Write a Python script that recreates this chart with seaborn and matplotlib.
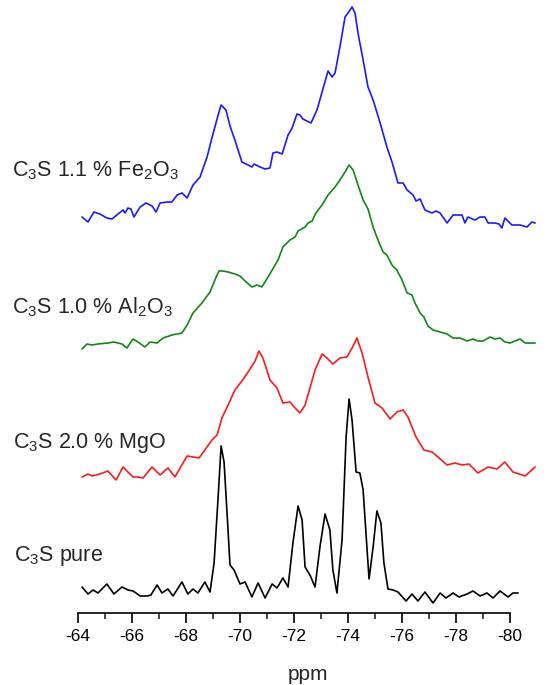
import numpy as np
import pandas as pd
import matplotlib
matplotlib.use("Agg")
import matplotlib.pyplot as plt
import seaborn as sns

# ---------------- data ----------------
labels = ["C$_3$S 1.1 % Fe$_2$O$_3$", "C$_3$S 1.0 % Al$_2$O$_3$",
          "C$_3$S 2.0 % MgO", "C$_3$S pure"]
colors = ["#1a1aff", "#118811", "#ff1a1a", "#000000"]
offsets = [383, 263, 135, 20]          # vertical stacking offsets (a.u.)

fe_ppm = [-64.15, -64.37, -64.59, -64.81, -65.07, -65.26, -65.48, -65.67, -65.74, -65.85,
          -65.96, -66.07, -66.30, -66.52, -66.74, -66.89, -67.04, -67.30, -67.48, -67.67,
          -67.85, -68.04, -68.26, -68.52, -68.78, -68.96, -69.19, -69.30, -69.48, -69.63,
          -69.81, -70.07, -70.30, -70.44, -70.52, -70.74, -70.93, -71.11, -71.22, -71.37,
          -71.56, -71.78, -71.93, -72.11, -72.22, -72.33, -72.63, -72.85, -73.04, -73.26,
          -73.41, -73.52, -73.70, -73.89, -74.00, -74.15, -74.26, -74.37, -74.56, -74.74,
          -74.93, -75.19, -75.44, -75.63, -75.85, -76.04, -76.19, -76.41, -76.52, -76.67,
          -76.85, -77.11, -77.26, -77.41, -77.67, -77.89, -78.22, -78.33, -78.44, -78.70,
          -78.89, -79.07, -79.19, -79.44, -79.59, -79.70, -79.81, -80.07, -80.37, -80.63,
          -80.81, -80.93]
fe_int = [13, 8, 18, 16, 12, 11, 16, 20, 17, 22,
          21, 13, 23, 27, 24, 18, 27, 28, 28, 35,
          37, 32, 45, 53, 73, 92, 115, 125, 120, 104,
          90, 68, 65, 63, 66, 63, 61, 62, 77, 78,
          76, 95, 102, 116, 115, 111, 107, 120, 138, 159,
          153, 157, 183, 213, 217, 223, 217, 197, 170, 143,
          130, 107, 83, 68, 47, 47, 40, 35, 29, 31,
          20, 17, 19, 17, 7, 15, 15, 7, 13, 10,
          13, 13, 7, 7, 6, 2, 12, 5, 5, 3,
          8, 7]

al_ppm = [-64.15, -64.33, -64.52, -64.74, -65.11, -65.33, -65.63, -65.81, -66.04, -66.22,
          -66.48, -66.67, -66.93, -67.15, -67.48, -67.85, -68.04, -68.26, -68.59, -68.89,
          -69.07, -69.22, -69.37, -69.56, -69.81, -70.00, -70.19, -70.44, -70.63, -70.81,
          -71.04, -71.30, -71.41, -71.59, -71.85, -72.04, -72.15, -72.41, -72.52, -72.67,
          -72.81, -73.04, -73.26, -73.52, -73.70, -73.89, -74.04, -74.19, -74.37, -74.56,
          -74.74, -74.93, -75.11, -75.30, -75.44, -75.63, -75.81, -76.00, -76.19, -76.37,
          -76.48, -76.67, -76.81, -76.96, -77.15, -77.41, -77.67, -77.89, -78.15, -78.41,
          -78.63, -78.81, -79.00, -79.26, -79.44, -79.63, -79.81, -80.00, -80.19, -80.37,
          -80.56, -80.74, -80.93]
al_int = [1, 6, 5, 6, 7, 8, 6, 2, 11, 8,
          3, 8, 7, 12, 15, 17, 25, 37, 47, 58,
          70, 79, 79, 78, 76, 74, 69, 63, 65, 63,
          73, 85, 90, 103, 110, 113, 119, 123, 127, 129,
          137, 145, 155, 163, 170, 178, 185, 180, 165, 150,
          141, 123, 110, 98, 95, 85, 80, 70, 57, 55,
          47, 37, 33, 24, 20, 18, 16, 12, 12, 9,
          11, 9, 9, 13, 11, 12, 8, 7, 9, 11,
          7, 7, 7]

mg_ppm = [-64.15, -64.37, -64.52, -64.81, -65.11, -65.41, -65.67, -65.85, -66.04, -66.22,
          -66.41, -66.74, -67.04, -67.33, -67.59, -68.04, -68.26, -68.48, -68.70, -68.96,
          -69.15, -69.33, -69.56, -69.81, -70.07, -70.30, -70.56, -70.70, -70.85, -71.11,
          -71.37, -71.59, -71.85, -72.04, -72.22, -72.41, -72.59, -72.78, -73.04, -73.22,
          -73.44, -73.70, -73.96, -74.15, -74.33, -74.52, -74.74, -75.00, -75.26, -75.56,
          -75.81, -76.04, -76.22, -76.52, -76.81, -77.11, -77.33, -77.67, -77.96, -78.22,
          -78.48, -78.81, -79.19, -79.52, -79.81, -80.11, -80.56, -80.93]
mg_int = [1, 4, 2, 4, 7, -2, 11, 6, 1, 1,
          0, 11, 3, 10, 1, 22, 21, 20, 28, 38,
          43, 60, 73, 88, 97, 106, 117, 127, 120, 98,
          90, 75, 76, 70, 65, 73, 90, 108, 124, 120,
          114, 120, 121, 130, 140, 125, 101, 75, 70, 59,
          66, 68, 61, 41, 28, 26, 21, 13, 15, 13,
          14, 5, 11, 9, 16, 6, 2, 11]

pure_ppm = [-64.15, -64.37, -64.56, -64.74, -65.07, -65.33, -65.63, -65.85, -66.04, -66.30,
            -66.56, -66.70, -66.93, -67.11, -67.33, -67.52, -67.85, -68.07, -68.26, -68.44,
            -68.70, -68.89, -69.04, -69.19, -69.30, -69.41, -69.52, -69.63, -69.78, -70.00,
            -70.19, -70.44, -70.67, -70.93, -71.19, -71.37, -71.59, -71.78, -71.96, -72.15,
            -72.30, -72.41, -72.59, -72.78, -72.96, -73.15, -73.33, -73.44, -73.59, -73.78,
            -73.93, -74.04, -74.15, -74.30, -74.44, -74.56, -74.70, -74.78, -74.93, -75.07,
            -75.22, -75.33, -75.48, -75.67, -75.85, -76.15, -76.37, -76.59, -76.85, -77.15,
            -77.41, -77.63, -77.89, -78.11, -78.41, -78.63, -78.89, -79.15, -79.37, -79.63,
            -79.93, -80.11, -80.30]
pure_int = [6, -1, 3, 0, 9, -1, 6, 3, 2, -3,
            -3, -2, 8, 0, 4, -3, 11, -1, 4, 0,
            11, 1, 30, 96, 147, 131, 80, 28, 23, 9,
            11, -4, 10, -5, 9, 5, 15, 6, 50, 87,
            73, 26, 18, 6, 46, 79, 63, 23, 0, 53,
            156, 194, 173, 121, 120, 103, 46, 14, 46, 82,
            70, 30, 4, 3, 1, -8, -1, -8, 1, -10,
            0, -5, 0, -4, -1, 2, -3, 0, -5, 2,
            -4, 0, 0]

x_ticks = [-64, -66, -68, -70, -72, -74, -76, -78, -80]
x_label = "ppm"

series_ppm = [fe_ppm, al_ppm, mg_ppm, pure_ppm]
series_int = [fe_int, al_int, mg_int, pure_int]

# ---------------- plot ----------------
sns.set_style("white")
plt.rcParams["font.family"] = ["Liberation Sans", "DejaVu Sans"]
plt.rcParams["mathtext.default"] = "regular"

W, H = 548, 685
fig = plt.figure(figsize=(W / 100, H / 100), dpi=100)
ax = fig.add_axes([70 / W, 72 / H, 475 / W, 613 / H])

for ppm, inten, off, col in zip(series_ppm, series_int, offsets, colors):
    df = pd.DataFrame({"ppm": ppm, "y": np.asarray(inten, float) + off})
    sns.lineplot(data=df, x="ppm", y="y", color=col, lw=1.2, sort=False,
                 estimator=None, ax=ax, clip_on=False)

ax.set_xlim(-63.704, -81.296)
ax.set_ylim(0, 613)
for s in ["top", "left", "right"]:
    ax.spines[s].set_visible(False)
ax.spines["bottom"].set_bounds(-80, -64)
ax.spines["bottom"].set_linewidth(1.2)
ax.spines["bottom"].set_color("black")
ax.set_yticks([])
ax.set_ylabel("")
ax.set_xticks(x_ticks)
ax.set_xticklabels([str(t) for t in x_ticks])
ax.set_xticks(np.arange(-65, -80, -2), minor=True)
ax.tick_params(axis="x", which="major", direction="out", length=7.5, width=1.2,
               labelsize=12.5, pad=4, colors="black", bottom=True)
ax.tick_params(axis="x", which="minor", direction="out", length=4.5, width=1.2,
               bottom=True)
ax.set_xlabel(x_label, fontsize=15, labelpad=15)

label_y = [171, 307, 443, 556]
label_x = [12, 12, 13, 14]
for lab, lx, ly in zip(labels, label_x, label_y):
    fig.text(lx / W, 1 - ly / H, lab, fontsize=15.5, ha="left", va="center")

fig.savefig("out.png", dpi=100)
